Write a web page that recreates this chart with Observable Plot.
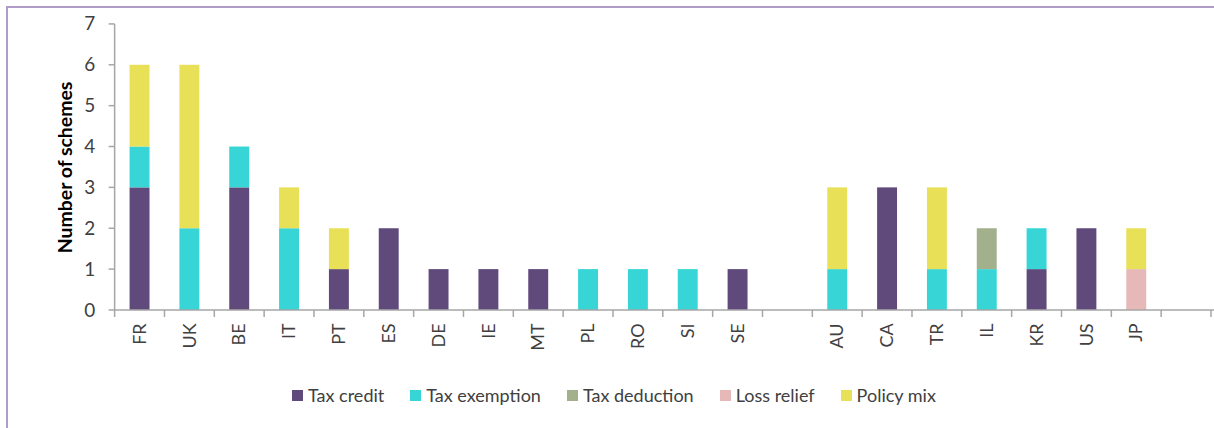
<!DOCTYPE html>
<html>
<head>
<meta charset="utf-8">
<script src="https://cdn.jsdelivr.net/npm/d3@7"></script>
<script src="https://cdn.jsdelivr.net/npm/@observablehq/plot@0.6"></script>
<style>
  html, body { margin: 0; padding: 0; background: #fff; overflow: hidden; width: 1214px; height: 428px; }
  #frame { position: absolute; left: 6px; top: 6px; width: 1300px; height: 500px; border: 2px solid #b09cc8; box-sizing: border-box; }
  #chart { position: absolute; left: 0; top: 0; }
  #legend { position: absolute; top: 384px; left: 292px; display: flex; align-items: center; font-family: Lato, "Open Sans", sans-serif; font-size: 18px; color: #404040; white-space: nowrap; }
  #legend .item { display: flex; align-items: center; margin-right: 26px; }
  #legend .sw { width: 11px; height: 11px; margin-right: 5px; }
</style>
</head>
<body>
<div id="frame"></div>
<div id="chart"></div>
<div id="legend"></div>
<script>
// Categories (" " and "  " are empty spacer slots)
const countries = ["FR","UK","BE","IT","PT","ES","DE","IE","MT","PL","RO","SI","SE"," ","AU","CA","TR","IL","KR","US","JP","  "];
const seriesNames = ["Tax credit","Tax exemption","Tax deduction","Loss relief","Policy mix"];
const seriesColors = ["#5f4a7b","#37d5d6","#a3b08c","#e6b8b7","#e8e157"];
const taxCredit    = [3,0,3,0,1,2,1,1,1,0,0,0,1,0,0,3,0,0,1,2,0,0];
const taxExemption = [1,2,1,2,0,0,0,0,0,1,1,1,0,0,1,0,1,1,1,0,0,0];
const taxDeduction = [0,0,0,0,0,0,0,0,0,0,0,0,0,0,0,0,0,1,0,0,0,0];
const lossRelief   = [0,0,0,0,0,0,0,0,0,0,0,0,0,0,0,0,0,0,0,0,1,0];
const policyMix    = [2,4,0,1,1,0,0,0,0,0,0,0,0,0,2,0,2,0,0,0,1,0];
const yTicks = [0,1,2,3,4,5,6,7];

const seriesValues = [taxCredit, taxExemption, taxDeduction, lossRelief, policyMix];
const data = [];
seriesNames.forEach((s, si) => {
  countries.forEach((c, ci) => {
    const v = seriesValues[si][ci];
    if (v > 0) data.push({country: c, type: s, value: v});
  });
});

const axisColor = "#a6a6a6";

// custom mark: axis lines and tick marks at category boundaries
function boundaryAxis(index, scales, values, dimensions) {
  const x = scales.x, y = scales.y;
  const dom = countries;
  const step = x(dom[1]) - x(dom[0]);
  const bw = x.bandwidth ? x.bandwidth() : step * 0.4;
  const off = (step - bw) / 2;
  const y0 = y(0), yTop = y(yTicks[yTicks.length - 1]);
  const g = d3.create("svg:g").attr("stroke", axisColor).attr("stroke-width", 1.5);
  const left = x(dom[0]) - off;
  g.append("line").attr("x1", left).attr("x2", left).attr("y1", yTop).attr("y2", y0);
  g.append("line").attr("x1", left).attr("x2", dimensions.width).attr("y1", y0).attr("y2", y0);
  const bounds = dom.map(c => x(c) - off);
  bounds.push(x(dom[dom.length - 1]) + bw + off);
  for (const b of bounds) {
    g.append("line").attr("x1", b).attr("x2", b).attr("y1", y0).attr("y2", y0 + 7);
  }
  for (const t of yTicks) {
    g.append("line").attr("x1", left - 6).attr("x2", left).attr("y1", y(t)).attr("y2", y(t));
  }
  return g.node();
}

const chart = Plot.plot({
  width: 1218,
  height: 360,
  marginLeft: 112,
  marginRight: 0,
  marginTop: 24,
  marginBottom: 49,
  style: {fontFamily: "Lato, 'Open Sans', sans-serif", fontSize: "18px", color: "#404040", background: "transparent"},
  x: {domain: countries, paddingInner: 0.6, paddingOuter: 0.3, axis: null},
  y: {domain: [0, 7], axis: null},
  color: {domain: seriesNames, range: seriesColors},
  marks: [
    Plot.barY(data, {x: "country", y: "value", fill: "type", order: seriesNames}),
    Plot.axisX({tickRotate: -90, tickSize: 0, tickPadding: 13, tickFormat: d => d.trim(), label: null, fill: "#404040", fontSize: 18}),
    Plot.axisY({ticks: yTicks, tickSize: 0, tickPadding: 17, tickFormat: d => String(d), label: null, fill: "#404040", fontSize: 19}),
    boundaryAxis,
    Plot.text(["Number of schemes"], {frameAnchor: "left", textAnchor: "middle", rotate: -90, dx: -47, text: d => d, fontWeight: "bold", fill: "#000", fontSize: 19.5})
  ]
});
document.getElementById("chart").appendChild(chart);

// legend
const legend = document.getElementById("legend");
seriesNames.forEach((s, i) => {
  const item = document.createElement("div");
  item.className = "item";
  const sw = document.createElement("span");
  sw.className = "sw";
  sw.style.background = seriesColors[i];
  const label = document.createElement("span");
  label.textContent = s;
  item.appendChild(sw);
  item.appendChild(label);
  legend.appendChild(item);
});
</script>
</body>
</html>
